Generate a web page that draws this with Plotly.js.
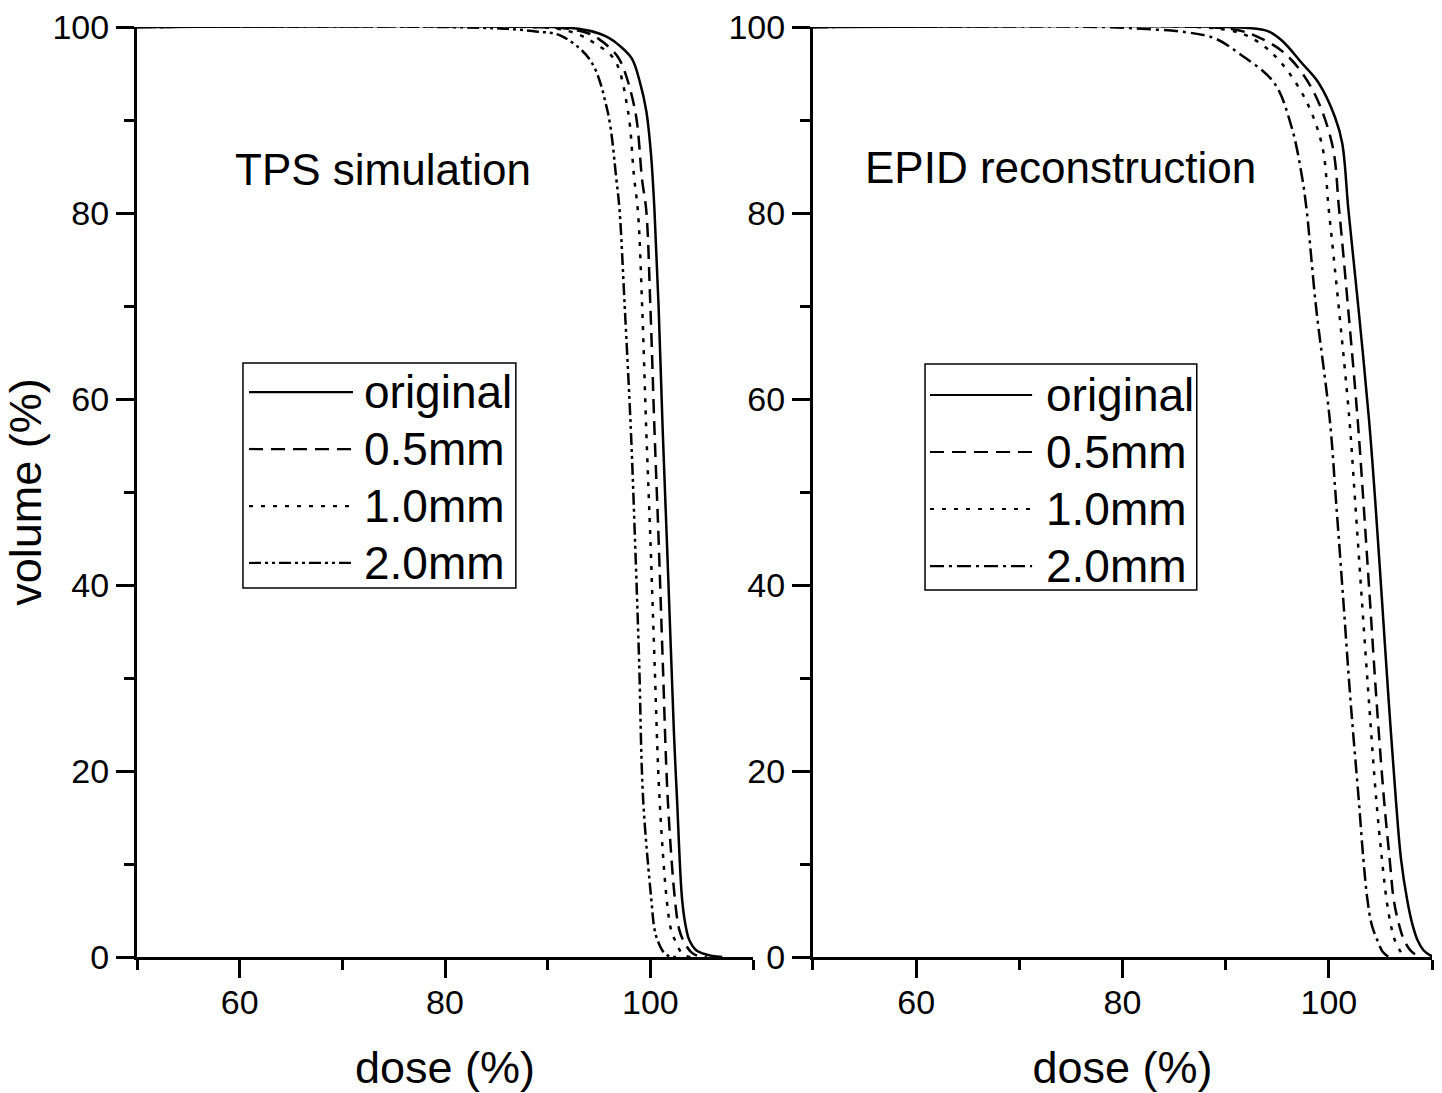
<!DOCTYPE html>
<html>
<head>
<meta charset="utf-8">
<script src="https://cdn.plot.ly/plotly-3.0.1.min.js"></script>
<style>html,body{margin:0;padding:0;background:#fff;}#chart{width:1442px;height:1093px;}</style>
</head>
<body>
<div id="chart"></div>
<script>
// ---------- Data (dose %, volume %) ----------
const seriesNames = ["original", "0.5mm", "1.0mm", "2.0mm"];
const panelTitles = ["TPS simulation", "EPID reconstruction"];
const xTickVals = [60, 80, 100];
const yTickVals = [0, 20, 40, 60, 80, 100];

// TPS simulation (left panel)
const tpsOrigDose = [50, 90, 93, 95, 96, 97, 98.2, 99, 99.6, 100.05, 100.4, 100.8, 101.2, 101.6, 102, 102.3, 102.6, 103.1, 103.5, 103.8, 104.5, 105.5, 106.5, 107];
const tpsOrigVol  = [100, 100, 99.8, 99.3, 98.8, 98.0, 96.6, 94, 91, 86.5, 80.3, 70, 56.7, 45, 33, 24, 16.9, 6.1, 3, 1.8, 0.7, 0.25, 0.05, 0];
const tps05Dose = [50, 89, 92, 94, 95, 96, 97, 98.5, 99.2, 99.6, 100, 100.4, 100.8, 101.2, 101.7, 102.4, 102.8, 103.2, 104, 104.8, 105.5];
const tps05Vol  = [100, 100, 99.8, 99.3, 98.7, 97.8, 96.5, 91.1, 83.5, 80.3, 70, 56.7, 45, 32, 16.9, 6.1, 3, 1.8, 0.5, 0.05, 0];
const tps10Dose = [50, 88, 91, 93, 94.5, 96.5, 97.8, 98.4, 98.8, 99.2, 99.6, 100, 100.4, 100.9, 101.6, 102, 102.4, 103, 103.5, 104];
const tps10Vol  = [100, 100, 99.8, 99.2, 98.3, 96.5, 91.1, 84, 80, 70, 56.7, 45, 32, 16.9, 6.1, 3, 1.8, 0.5, 0.1, 0];
const tps20Dose = [50, 80, 86, 89, 91.2, 94.1, 95.8, 96.7, 97.0, 97.5, 98.1, 98.5, 98.9, 99.3, 100.1, 100.4, 100.7, 101.3, 101.9, 102.5];
const tps20Vol  = [100, 100, 99.8, 99.5, 99.1, 96.5, 91.1, 83.5, 80.3, 70, 56.7, 45, 32, 16.9, 6.1, 3, 1.8, 0.5, 0.05, 0];

// EPID reconstruction (right panel)
const epidOrigDose = [50, 90, 93, 94.2, 95.5, 97.4, 99, 100.6, 101.3, 101.9, 102.85, 103.9, 104.5, 105.15, 105.8, 106.5, 107, 107.6, 108.1, 108.6, 109.2, 109.8, 110.2];
const epidOrigVol  = [100, 100, 99.8, 99.5, 98.5, 96.1, 94, 90.3, 87.5, 80.3, 70, 57.7, 49, 38.4, 27.6, 16.9, 10.5, 6.1, 3.5, 1.8, 0.7, 0.2, 0];
const epid05Dose = [50, 88, 91, 93, 95.7, 98.3, 100.3, 101.0, 101.85, 102.8, 103.35, 103.98, 104.62, 105.35, 105.9, 106.3, 106.8, 107.3, 108, 108.8];
const epid05Vol  = [100, 100, 99.7, 99, 97.2, 93.5, 87.5, 80.3, 70, 57.7, 49, 38.4, 27.6, 16.9, 10.5, 6.1, 3.5, 1.8, 0.6, 0];
const epid10Dose = [50, 87, 90, 92, 94.5, 97.4, 99.3, 100, 100.95, 102, 102.55, 103.2, 103.88, 104.6, 105.15, 105.6, 106, 106.4, 107, 107.4];
const epid10Vol  = [100, 100, 99.7, 99.1, 97.2, 92.9, 87.5, 80.3, 70, 57.7, 49, 38.4, 27.6, 16.9, 10.5, 6.1, 3.5, 1.8, 0.5, 0];
const epid20Dose = [50, 78, 81.8, 85.7, 88.9, 91.5, 94.7, 96.4, 97.4, 97.85, 98.75, 100.1, 100.7, 101.4, 102.1, 102.9, 103.35, 103.75, 104.15, 104.7, 105.2, 105.8];
const epid20Vol  = [100, 100, 99.8, 99.5, 98.8, 97.0, 94.0, 89.2, 83.9, 80.3, 70, 57.7, 49, 38.4, 27.6, 16.9, 10.5, 6.1, 3.5, 1.8, 0.6, 0];

// ---------- Styles ----------
const FONT = "Liberation Sans, Arial, sans-serif";
const dashLeft  = ["solid", "14px,8px", "4px,8px", "12px,4px,3px,4px,3px,4px"];
const dashRight = ["solid", "14px,8px", "4px,8px", "14px,5px,3px,5px"];

const leftSets = [[tpsOrigDose, tpsOrigVol], [tps05Dose, tps05Vol], [tps10Dose, tps10Vol], [tps20Dose, tps20Vol]];
const rightSets = [[epidOrigDose, epidOrigVol], [epid05Dose, epid05Vol], [epid10Dose, epid10Vol], [epid20Dose, epid20Vol]];

const traces = [];
leftSets.forEach((s, i) => traces.push({
  x: s[0], y: s[1], type: "scatter", mode: "lines", name: seriesNames[i],
  xaxis: "x", yaxis: "y", showlegend: false,
  line: {color: "#000", width: 2.5, dash: dashLeft[i], shape: "spline", smoothing: 1}
}));
rightSets.forEach((s, i) => traces.push({
  x: s[0], y: s[1], type: "scatter", mode: "lines", name: seriesNames[i],
  xaxis: "x2", yaxis: "y2", showlegend: false,
  line: {color: "#000", width: 2.5, dash: dashRight[i], shape: "spline", smoothing: 1}
}));

function xAxis(domain, anchor) {
  return {
    domain: domain, anchor: anchor, range: [50, 110],
    tickmode: "array", tickvals: xTickVals,
    showline: true, linewidth: 3, linecolor: "#000",
    ticks: "outside", ticklen: 18, tickwidth: 3, tickcolor: "#000",
    minor: {dtick: 10, tick0: 0, ticks: "outside", ticklen: 10, tickwidth: 3, tickcolor: "#000", showgrid: false},
    showgrid: false, zeroline: false,
    tickfont: {family: FONT, size: 34, color: "#000"},
    ticklabelstandoff: -5,
    title: {text: "dose (%)", font: {family: FONT, size: 45, color: "#000"}, standoff: 33},
    automargin: false, fixedrange: true
  };
}
function yAxis(anchor, withTitle) {
  const a = {
    domain: [0, 1], anchor: anchor, range: [0, 100],
    tickmode: "array", tickvals: yTickVals,
    showline: true, linewidth: 3, linecolor: "#000",
    ticks: "outside", ticklen: 18, tickwidth: 3, tickcolor: "#000",
    minor: {dtick: 10, tick0: 0, ticks: "outside", ticklen: 10, tickwidth: 3, tickcolor: "#000", showgrid: false},
    showgrid: false, zeroline: false,
    tickfont: {family: FONT, size: 34, color: "#000"},
    automargin: false, fixedrange: true
  };
  if (withTitle) a.title = {text: "volume (%)", font: {family: FONT, size: 45, color: "#000"}, standoff: 8};
  return a;
}

// ---------- Legend boxes (drawn in axis-domain coordinates) ----------
const legendSpecs = [
  {xref: "x domain", yref: "y domain", box: [0.172, 0.615, 0.3968, 0.6387], line: [0.1818, 0.3506], text: 0.365,
   rows: [0.6075, 0.5462, 0.4849, 0.4237], dash: dashLeft},
  {xref: "x2 domain", yref: "y2 domain", box: [0.181, 0.620, 0.3946, 0.6376], line: [0.189, 0.354], text: 0.373,
   rows: [0.6043, 0.5430, 0.4817, 0.4204], dash: dashRight}
];
const shapes = [];
const annotations = [
  {text: panelTitles[0], xref: "x", yref: "y", x: 74.0, y: 84.7, showarrow: false,
   font: {family: FONT, size: 44, color: "#000"}, xanchor: "center", yanchor: "middle"},
  {text: panelTitles[1], xref: "x2", yref: "y2", x: 74.0, y: 84.9, showarrow: false,
   font: {family: FONT, size: 44, color: "#000"}, xanchor: "center", yanchor: "middle"}
];
legendSpecs.forEach(L => {
  shapes.push({type: "rect", xref: L.xref, yref: L.yref, x0: L.box[0], x1: L.box[1], y0: L.box[2], y1: L.box[3],
    line: {color: "#000", width: 1.5}, fillcolor: "rgba(0,0,0,0)", layer: "above"});
  seriesNames.forEach((name, i) => {
    shapes.push({type: "line", xref: L.xref, yref: L.yref, x0: L.line[0], x1: L.line[1], y0: L.rows[i], y1: L.rows[i],
      line: {color: "#000", width: 2.2, dash: L.dash[i]}, layer: "above"});
    annotations.push({text: name, xref: L.xref, yref: L.yref, x: L.text, y: L.rows[i], showarrow: false,
      xanchor: "left", yanchor: "middle", font: {family: FONT, size: 46, color: "#000"}});
  });
});

const layout = {
  width: 1442, height: 1093,
  margin: {l: 137, r: 10, t: 27, b: 136},
  paper_bgcolor: "#fff", plot_bgcolor: "#fff",
  showlegend: false,
  xaxis: xAxis([0, 0.4757], "y"),
  yaxis: yAxis("x", true),
  xaxis2: xAxis([0.522, 1], "y2"),
  yaxis2: yAxis("x2", false),
  shapes: shapes,
  annotations: annotations
};

Plotly.newPlot("chart", traces, layout, {staticPlot: true, displayModeBar: false});
</script>
</body>
</html>
